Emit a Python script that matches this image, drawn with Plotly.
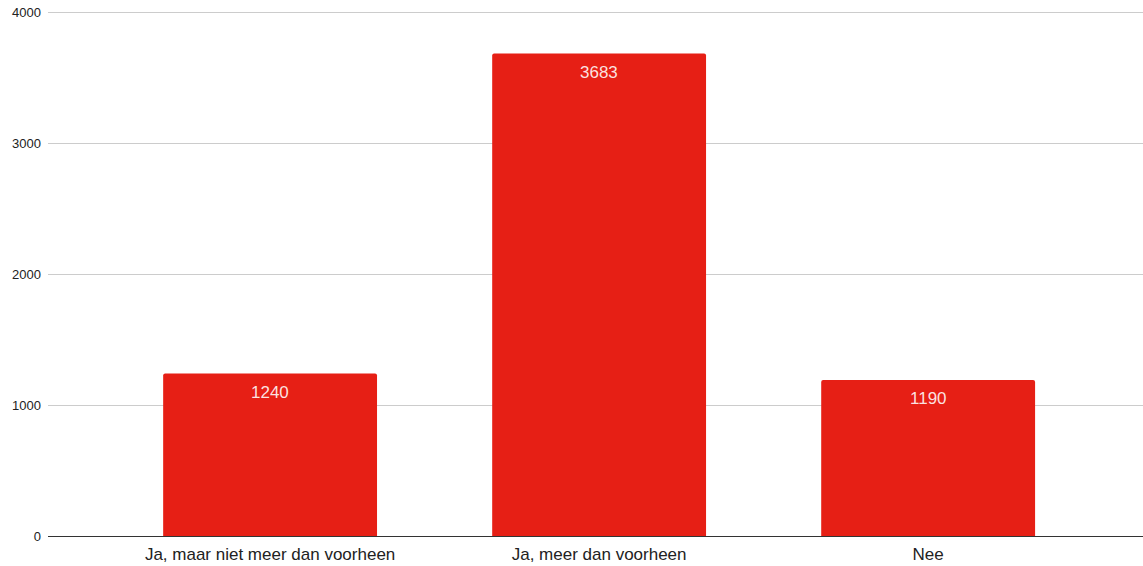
import plotly.graph_objects as go

categories = ["Ja, maar niet meer dan voorheen", "Ja, meer dan voorheen", "Nee"]
values = [1240, 3683, 1190]
y_ticks = [0, 1000, 2000, 3000, 4000]

bar_color = "#e61f15"
font_family = "Liberation Sans, Arial, sans-serif"

fig = go.Figure()
fig.add_trace(go.Bar(
    x=categories,
    y=values,
    marker=dict(color=bar_color, line=dict(width=0), cornerradius=2),
    hoverinfo="skip",
))

for c, v in zip(categories, values):
    fig.add_annotation(
        x=c, y=v, text=str(v), showarrow=False,
        yanchor="top", yshift=-7,
        font=dict(family=font_family, size=17, color="rgba(255,255,255,0.88)"),
    )

fig.update_layout(
    width=1143, height=566,
    margin=dict(l=48, r=0, t=11, b=30),
    paper_bgcolor="white", plot_bgcolor="white",
    bargap=0.35,
    showlegend=False,
    font=dict(family=font_family, color="#222"),
)
fig.update_xaxes(
    type="category",
    range=[-0.675, 2.653],
    showline=True, linecolor="#333", linewidth=1,
    showgrid=False, ticks="",
    ticklabelstandoff=3,
    tickfont=dict(size=17, color="#222"),
    fixedrange=True,
)
fig.update_yaxes(
    range=[0, 4008],
    tickvals=y_ticks,
    ticktext=[str(t) for t in y_ticks],
    showgrid=True, gridcolor="#cccccc", gridwidth=1,
    zeroline=False, showline=False, ticks="",
    ticklabelstandoff=6,
    tickfont=dict(size=13, color="#222"),
    fixedrange=True,
)

fig.write_html(
    "out.html",
    config={"displayModeBar": False},
    post_script="document.body.style.margin='0';document.body.style.overflow='hidden';",
)
